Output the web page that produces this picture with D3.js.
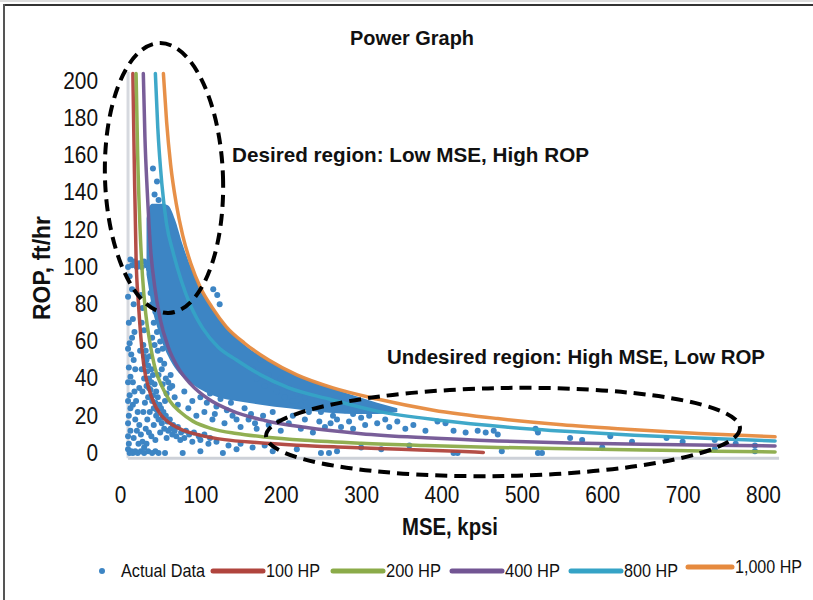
<!DOCTYPE html>
<html><head><meta charset="utf-8">
<script src="https://cdn.jsdelivr.net/npm/d3@7/dist/d3.min.js"></script>
<style>
html,body{margin:0;padding:0;background:#fff;}
svg{display:block;}
text{font-family:"Liberation Sans",Arial,Helvetica,sans-serif;fill:#111;}
</style></head>
<body><svg id="c" width="813" height="600"></svg>
<script>
// ---------- data ----------
const xTicks = [0,100,200,300,400,500,600,700,800];
const yTicks = [0,20,40,60,80,100,120,140,160,180,200];
const seriesNames = ["100 HP","200 HP","400 HP","800 HP","1,000 HP"];
const seriesColors = ["#b0443d","#8bab49","#725593","#35a3c6","#e68a3e"];
// curves: [MSE kpsi, ROP ft/hr]
const hp100 = [[16,204],[18,150],[20,105],[23,80],[26,62],[30,46],[35,36],[42,27],[50,21],[62,16],[80,12],[100,9.5],[130,7.2],[170,5.6],[220,4.2],[280,3.1],[350,2.0],[420,0.9],[452,0.3]];
const hp200 = [[20,204],[22,160],[25,120],[28,95],[32,75],[37,60],[44,45],[52,36],[62,28],[75,22],[91,17],[115,13],[145,10.5],[180,8.6],[230,6.8],[300,5.2],[380,4.0],[470,3.0],[560,2.3],[650,1.6],[740,1.0],[815,0.6]];
const hp400 = [[29,204],[31,170],[34,140],[38,110],[43,90],[50,72],[60,57],[72,46],[88,37],[110,29],[140,22.5],[180,17.5],[230,13.8],[300,10.4],[380,8.2],[470,6.5],[560,5.4],[650,4.7],[740,4.2],[815,3.8]];
const hp800 = [[44,204],[47,175],[52,145],[58,123],[66,108],[76,93],[88,79],[103,67],[122,57],[145,50],[175,42],[210,35],[260,29],[320,22.5],[400,17.5],[480,14],[560,11.5],[640,9.5],[720,8],[815,6.5]];
const hp1000 = [[54,204],[58,178],[63,155],[70,134],[78,117],[88,102],[100,89],[115,78],[132,68],[155,59],[185,50],[220,42],[265,35],[320,29],[390,23],[470,18.5],[550,15.2],[630,12.8],[720,10.5],[815,8.7]];
// dense core of the actual data: [MSE, low ROP, high ROP]
const denseCore = [[33,96,126],[36,88,132],[40,78,134],[46,68,134],[52,60,134],[60,52,133],[68,46,126],[78,41,112],[90,37,98],[105,33,85],[122,30,74],[145,28,62],[175,26,52],[210,24,44],[250,22,37],[290,21,31],[320,21,27],[345,22,24]];
// individual actual data points [MSE, ROP]
const actualData = [
[10,2],[12,0],[14,1],[11,5],[10,9],[13,12],[10,16],[11,20],[13,24],[10,28],[12,31],[10,38],[13,41],[11,46],[10,56],[12,59],[14,53],[11,70],[10,84],[12,95],[10,100],[13,104],
[16,0],[19,1],[22,0],[26,1],[30,0],[35,1],[40,0],[44,1],[48,0],[56,-1],[78,0],[100,1],[128,0],[145,2],[190,1],[220,2],[250,-1],[260,0],[270,1],[300,3],[325,2],[360,4],[415,0],[420,-1],[475,1],[520,0],[525,0],[600,3],[740,2],[790,1],
[15,101],[18,103],[21,100],[24,102],[27,100],[30,103],[33,101],[36,99],
[15,88],[17,80],[16,72],[18,65],[15,62],[17,50],[19,45],[16,38],[18,33],[20,28],[16,26],[22,22],[19,18],[24,15],[21,12],[17,8],[26,10],[23,5],[28,6],[30,3],[33,5],
[26,85],[28,78],[27,70],[30,66],[29,58],[32,55],[31,48],[34,44],[36,40],[33,36],[38,34],[35,30],[40,28],[42,24],[37,22],[45,20],[48,18],[42,15],[52,16],[55,13],[50,11],[60,12],[65,10],[58,8],[70,9],[75,7],[80,8],[90,6],[100,7],[110,5],[120,6],[135,4],[150,5],[165,3],[180,4],
[38,86],[40,80],[44,76],[47,82],[42,70],[46,65],[50,60],[53,56],
[40,62],[43,58],[47,55],[50,50],[52,45],[55,48],[48,42],[57,40],[53,37],[60,38],[58,32],[63,42],[65,36],[56,28],
[30,52],[33,50],[35,47],[37,52],[39,45],[41,42],[36,35],[39,38],[43,37],[45,33],[41,31],[47,30],[44,27],[49,26],[51,24],[46,23],[54,22],[57,20],[53,19],[59,17],[62,18],[66,15],[63,13],[68,12],[72,14],[76,11],[82,12],[86,10],[92,11],[98,9],[105,10],[112,8],[30,40],[28,33],[31,27],[29,22],[34,18],[32,13],[36,11],[39,9],[44,7],[27,45],[25,55],[24,35],
[62,35],[68,30],[72,26],[80,33],[85,24],[90,28],[95,20],[100,30],[105,22],[115,18],[120,25],[130,16],[140,20],[150,14],[160,18],[170,13],[185,15],[200,12],[210,16],[225,13],[240,11],[255,14],
[108,27],[112,32],[118,21],[125,29],[133,23],[138,27],[145,18],[155,24],[163,21],[168,16],[178,20],[190,22],[198,17],[215,20],[230,18],[235,22],[248,17],[262,16],[275,14],[290,13],
[116,88],[121,85],[124,80],[41,153],[46,146],[43,139],[48,136],
[165,45],[170,40],[175,50],[180,36],[185,42],[190,38],[195,33],[200,40],[205,30],[210,35],[215,28],[220,32],[225,26],[230,30],[240,24],[245,28],[250,22],[260,25],[265,20],[270,18],[280,23],[285,17],[290,21],[300,19],[305,15],[310,20],[320,16],[330,18],[335,14],[345,17],[355,13],[365,15],[380,12],[395,17],[405,16],[415,12],[430,11],[445,12],[455,11],[465,12],[470,10],[517,13],[520,11],[560,8],[575,7],[610,9],[637,6],[680,8],[700,6],[740,7],[766,5],[790,4]
];
const titleText = "Power Graph";
const xTitle = "MSE, kpsi";
const yTitle = "ROP, ft/hr";
const noteGood = "Desired region: Low MSE, High ROP";
const noteBad = "Undesired region: High MSE, Low ROP";
const legendFirst = "Actual Data";

// ---------- drawing ----------
const svg = d3.select("#c");
const x = d3.scaleLinear().domain([0,800]).range([120,763]);
const y = d3.scaleLinear().domain([0,200]).range([453,81]);
const blue = "#3d85c4";

// frame
svg.append("line").attr("x1",0).attr("x2",813).attr("y1",1).attr("y2",1).attr("stroke","#bbb").attr("stroke-width",1);
svg.append("line").attr("x1",3).attr("x2",813).attr("y1",5).attr("y2",5).attr("stroke","#333").attr("stroke-width",2);
svg.append("line").attr("x1",4).attr("x2",4).attr("y1",4).attr("y2",600).attr("stroke","#555").attr("stroke-width",2);

// plot-area axis lines
const xStart = 10, xEnd = 820, yBase = -2.8, yTop = 205;
svg.append("line").attr("x1",x(xStart)).attr("x2",x(xEnd)).attr("y1",y(yBase)).attr("y2",y(yBase)).attr("stroke","#cdd1d8").attr("stroke-width",3);
svg.append("line").attr("x1",x(xStart)).attr("x2",x(xStart)).attr("y1",y(yBase)).attr("y2",y(yTop)).attr("stroke","#d6d9df").attr("stroke-width",3);

// dense core
svg.append("path").datum(denseCore)
  .attr("d", d3.area().x(d=>x(d[0])).y0(d=>y(d[1])).y1(d=>y(d[2])).curve(d3.curveMonotoneX))
  .attr("fill", blue);

// points
svg.append("g").selectAll("circle").data(actualData).join("circle")
  .attr("cx",d=>x(d[0])).attr("cy",d=>y(Math.max(d[1],0))).attr("r",3).attr("fill",blue);

// curves
const line = d3.line().x(d=>x(d[0])).y(d=>y(d[1])).curve(d3.curveMonotoneX);
[hp100,hp200,hp400,hp800,hp1000].forEach((s,i)=>{
  svg.append("path").datum(s).attr("d",line).attr("fill","none")
    .attr("stroke",seriesColors[i]).attr("stroke-width",3.5).attr("stroke-opacity",0.95).attr("stroke-linecap","round");
});

// axes
const fs = 23, digitW = 11.6;
const ya = svg.append("g").attr("transform",`translate(${x(0)},0)`)
  .call(d3.axisLeft(y).tickValues(yTicks).tickSize(0).tickPadding(22));
ya.select(".domain").remove();
ya.selectAll("text").style("font-size",fs+"px").attr("fill","#111")
  .attr("textLength",d=>String(d).length*digitW).attr("lengthAdjust","spacingAndGlyphs");
const xa = svg.append("g").attr("transform",`translate(0,${y(yBase)})`)
  .call(d3.axisBottom(x).tickValues(xTicks).tickSize(0).tickPadding(28));
xa.select(".domain").remove();
xa.selectAll("text").style("font-size",fs+"px").attr("fill","#111")
  .attr("textLength",d=>String(d).length*digitW).attr("lengthAdjust","spacingAndGlyphs");

// titles
function boldText(tx, ty, str, size, len, anchor){
  return svg.append("text").attr("x",tx).attr("y",ty).attr("text-anchor",anchor||"start")
    .attr("font-weight","bold").style("font-size",size+"px")
    .attr("textLength",len).attr("lengthAdjust","spacingAndGlyphs").text(str);
}
boldText(412,45,titleText,21,124,"middle");
boldText(450,535,xTitle,23,96,"middle");
svg.append("text").attr("transform","translate(50,268) rotate(-90)").attr("text-anchor","middle")
  .attr("font-weight","bold").style("font-size","23px").attr("textLength",104).attr("lengthAdjust","spacingAndGlyphs").text(yTitle);
boldText(232,162,noteGood,21,357);
boldText(387,364,noteBad,21,378);

// dashed ellipses
svg.append("ellipse").attr("cx",164).attr("cy",178).attr("rx",59).attr("ry",135)
  .attr("transform","rotate(-2,164,178)")
  .attr("fill","none").attr("stroke","#000").attr("stroke-width",4).attr("stroke-dasharray","12,7");
svg.append("ellipse").attr("cx",503).attr("cy",432).attr("rx",237).attr("ry",44)
  .attr("transform","rotate(-1,503,432)")
  .attr("fill","none").attr("stroke","#000").attr("stroke-width",4).attr("stroke-dasharray","12,7");

// legend
const lg = svg.append("g");
const ly = 571;
lg.append("circle").attr("cx",102).attr("cy",ly).attr("r",3).attr("fill",blue);
lg.append("text").attr("x",121).attr("y",ly+6).style("font-size","19px")
  .attr("textLength",84).attr("lengthAdjust","spacingAndGlyphs").text(legendFirst);
const legendX = [213,333,452,571,688];
const legendLen = [54,55,55,54,67];
seriesNames.forEach((n,i)=>{
  const yy = i===4 ? ly-4 : ly;
  lg.append("line").attr("x1",legendX[i]).attr("x2",legendX[i]+(i===4?44:50)).attr("y1",yy).attr("y2",yy)
    .attr("stroke",seriesColors[i]).attr("stroke-width",5).attr("stroke-linecap","round");
  lg.append("text").attr("x",legendX[i]+(i===4?47:53)).attr("y",yy+6).style("font-size","19px")
    .attr("textLength",legendLen[i]).attr("lengthAdjust","spacingAndGlyphs").text(n);
});
</script></body></html>
